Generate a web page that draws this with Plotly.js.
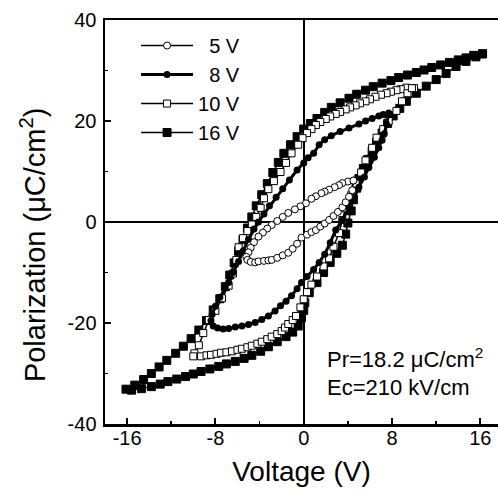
<!DOCTYPE html>
<html>
<head>
<meta charset="utf-8">
<script src="https://cdn.plot.ly/plotly-3.0.1.min.js"></script>
<style>html,body{margin:0;padding:0;background:#fff;}#chart{width:498px;height:501px;}</style>
</head>
<body>
<div id="chart"></div>
<script>
// Legend names
const seriesNames = ["\u20075 V", "\u20078 V", "10 V", "16 V"];

// 5 V loop (open circles): upper branch then lower branch
const v5 = [4.5, 4.0, 3.5, 3.2, 2.8, 2.3, 1.9, 1.6, 1.1, 0.7, 0.2, -0.3, -0.8, -1.4, -1.9, -2.4, -2.9, -3.3, -3.7, -4.1, -4.5, -4.8, -5.0, -5.2, -5.1, -4.8,
            -4.4, -4.1, -3.6, -3.2, -2.9, -2.4, -1.9, -1.4, -1.0, -0.6, -0.2, 0.3, 0.7, 1.1, 1.5, 1.9, 2.3, 2.7, 3.1, 3.5, 3.8, 4.1, 4.4, 4.5];
const p5 = [8.2, 8.0, 7.7, 7.3, 6.9, 6.4, 6.0, 5.7, 5.1, 4.6, 3.7, 3.1, 2.5, 1.8, 1.0, 0.2, -0.6, -1.3, -2.1, -2.9, -4.0, -5.1, -6.0, -6.9, -7.5, -7.9,
            -8.0, -7.8, -7.7, -7.6, -7.5, -7.1, -6.6, -6.1, -5.3, -4.3, -3.1, -2.5, -2.0, -1.6, -0.9, -0.3, 0.4, 1.2, 2.0, 2.9, 3.9, 5.0, 6.3, 8.2];

// 8 V loop (filled circles)
const v8 = [7.7, 7.2, 6.8, 6.2, 5.6, 5.0, 4.1, 3.3, 2.5, 1.9, 1.4, 0.9, 0.4, 0.0, -0.6, -1.3, -1.9, -2.5, -3.1, -3.6, -4.1, -4.5, -5.0, -5.5, -5.9, -6.4, -6.8, -7.1, -7.6, -8.0, -8.3, -8.4, -8.2,
            -7.8, -7.3, -6.8, -6.2, -5.6, -5.0, -4.4, -3.8, -3.2, -2.6, -2.1, -1.6, -1.1, -0.6, -0.2, 0.3, 0.9, 1.4, 1.9, 2.4, 2.9, 3.5, 4.1, 4.6, 5.0, 5.5, 5.9, 6.4, 6.8, 7.1, 7.3, 7.5, 7.7];
const p8 = [21.6, 21.3, 21.0, 20.5, 20.0, 19.4, 18.6, 17.9, 17.1, 16.3, 15.3, 13.6, 12.7, 11.7, 10.3, 8.3, 6.6, 4.9, 3.2, 1.6, 0.0, -1.4, -3.4, -5.8, -7.8, -10.0, -12.0, -13.0, -14.9, -16.7, -18.3, -19.5, -20.6,
            -21.0, -21.2, -21.1, -20.8, -20.6, -20.3, -19.9, -19.3, -18.6, -17.6, -16.6, -15.7, -14.6, -13.2, -12.0, -10.8, -9.4, -8.0, -6.4, -4.1, -1.6, 0.4, 2.9, 4.9, 6.9, 8.9, 10.8, 12.8, 14.7, 16.2, 17.5, 19.4, 21.3];

// 10 V loop (open squares)
const v10 = [10.0, 9.3, 8.8, 8.4, 7.9, 7.5, 7.0, 6.5, 6.0, 5.6, 5.1, 4.7, 4.2, 3.8, 3.3, 2.9, 2.4, 2.0, 1.5, 1.1, 0.7, 0.3, -0.1, -0.5, -1.1, -1.6, -2.1, -2.7, -3.2, -3.6, -3.9, -4.3, -4.7, -5.1, -5.5, -5.9, -6.1, -6.4, -6.8, -7.4, -8.0, -8.6, -9.1, -9.5, -9.9, -10.0,
             -9.3, -8.8, -8.4, -7.9, -7.5, -7.0, -6.5, -6.0, -5.6, -5.1, -4.7, -4.2, -3.8, -3.3, -2.9, -2.4, -2.0, -1.7, -1.4, -1.0, -0.7, -0.3, 0.0, 0.3, 0.7, 1.2, 1.8, 2.3, 2.7, 3.2, 3.5, 3.8, 4.3, 4.7, 5.2, 5.6, 6.2, 6.6, 7.2, 7.7, 8.4, 8.9, 9.4, 9.8];
const p10 = [26.5, 26.6, 26.3, 26.1, 25.8, 25.5, 25.2, 24.8, 24.3, 23.9, 23.5, 23.1, 22.7, 22.3, 21.8, 21.4, 20.9, 20.4, 19.8, 19.2, 18.4, 17.6, 16.6, 15.3, 13.6, 11.7, 9.9, 8.1, 6.5, 4.7, 2.8, 1.0, -0.5, -1.8, -3.2, -5.0, -7.5, -10.2, -12.6, -15.1, -17.6, -19.4, -22.0, -24.4, -26.0, -26.6,
             -26.6, -26.4, -26.3, -26.1, -25.9, -25.8, -25.6, -25.3, -25.1, -24.8, -24.5, -24.1, -23.7, -23.2, -22.7, -22.2, -21.6, -20.9, -20.2, -19.4, -18.6, -16.9, -15.3, -13.9, -12.4, -10.8, -8.8, -7.2, -4.9, -2.2, 0.4, 2.7, 5.3, 7.6, 9.8, 12.2, 14.7, 16.7, 18.4, 20.0, 22.0, 23.9, 25.5, 26.5];

// 16 V loop (filled squares)
const v16 = [16.2, 15.4, 14.7, 14.0, 13.2, 12.4, 11.6, 10.9, 10.2, 9.4, 8.6, 7.9, 7.1, 6.3, 5.6, 4.8, 4.1, 3.3, 2.5, 1.9, 1.2, 0.6, 0.0, -0.6, -1.2, -1.8, -2.3, -2.8, -3.3, -3.8, -4.3, -4.7, -5.1, -5.5, -5.9, -6.3, -6.7, -7.1, -7.6, -8.2, -8.8, -9.5, -10.2, -10.9, -11.6, -12.4, -13.1, -13.8, -14.5, -15.3, -16.1,
             -15.6, -14.7, -13.8, -13.0, -12.3, -11.5, -10.7, -10.0, -9.3, -8.5, -7.7, -7.0, -6.2, -5.4, -4.7, -3.9, -3.2, -2.4, -1.6, -1.0, -0.5, -0.2, 0.0, 0.1, 0.5, 1.2, 1.8, 2.4, 3.0, 3.5, 3.8, 4.0, 4.3, 4.5, 4.8, 5.0, 5.4, 5.8, 6.2, 6.6, 7.1, 7.6, 8.1, 8.7, 9.3, 10.2, 11.1, 12.0, 12.9, 13.8, 14.7, 15.6, 16.2];
const p16 = [33.3, 33.0, 32.5, 32.1, 31.6, 31.1, 30.6, 30.1, 29.6, 29.1, 28.6, 28.0, 27.5, 26.8, 26.1, 25.3, 24.5, 23.6, 22.7, 21.7, 20.5, 19.5, 18.4, 16.9, 15.3, 13.6, 11.8, 9.8, 7.6, 5.4, 3.2, 1.0, -1.2, -3.5, -5.8, -8.1, -10.5, -12.8, -15.2, -17.4, -19.5, -21.4, -23.1, -24.6, -26.0, -27.4, -28.7, -30.0, -31.2, -32.3, -33.1,
             -33.3, -33.0, -32.6, -32.1, -31.6, -31.1, -30.6, -30.1, -29.6, -29.1, -28.6, -28.1, -27.6, -27.0, -26.4, -25.6, -24.7, -23.7, -22.7, -21.8, -20.6, -19.0, -17.5, -16.0, -14.0, -12.0, -10.0, -8.0, -6.2, -4.6, -2.4, -0.2, 2.2, 4.4, 6.7, 8.6, 10.6, 12.4, 14.0, 15.8, 17.6, 19.5, 21.0, 22.5, 23.9, 25.5, 26.9, 28.2, 29.4, 30.8, 31.8, 32.7, 33.3];

// Axis ticks
const xTicks = [-16, -8, 0, 8, 16];
const yTicks = [-40, -20, 0, 20, 40];

// Texts
const xTitle = "Voltage (V)";
const yTitle = "Polarization (\u03bcC/cm<sup>2</sup>)";
const noteLines = ["Pr=18.2 \u03bcC/cm<sup>2</sup>", "Ec=210 kV/cm"];

const FONT = "Arial, 'Liberation Sans', Helvetica, sans-serif";
const lineStyle = {color: "#000", width: 1.5};

const traces = [
  {x: v16, y: p16, name: seriesNames[3], legendrank: 4, type: "scatter", mode: "lines+markers", line: lineStyle,
   marker: {symbol: "square", size: 8, color: "#000", line: {color: "#000", width: 1}}},
  {x: v10, y: p10, name: seriesNames[2], legendrank: 3, type: "scatter", mode: "lines+markers", line: lineStyle,
   marker: {symbol: "square", size: 7, color: "#fff", line: {color: "#000", width: 1}}},
  {x: v8, y: p8, name: seriesNames[1], legendrank: 2, type: "scatter", mode: "lines+markers", line: {color: "#000", width: 3},
   marker: {symbol: "circle", size: 7, color: "#000", line: {color: "#000", width: 0}}},
  {x: v5, y: p5, name: seriesNames[0], legendrank: 1, type: "scatter", mode: "lines+markers", line: lineStyle,
   marker: {symbol: "circle", size: 7, color: "#fff", line: {color: "#000", width: 1}}}
];

const layout = {
  width: 498, height: 501,
  margin: {l: 105, r: 0, t: 20, b: 77},
  paper_bgcolor: "#fff", plot_bgcolor: "#fff",
  font: {family: FONT, color: "#000", size: 16},
  showlegend: true,
  legend: {x: 0.079, y: 0.985, xanchor: "left", yanchor: "top", bgcolor: "rgba(0,0,0,0)",
           font: {family: FONT, size: 20, color: "#000"}, tracegroupgap: 0, itemwidth: 52},
  xaxis: {
    range: [-18, 17.6], tickvals: xTicks, ticktext: xTicks.map(String),
    ticks: "inside", ticklen: 6, tickwidth: 2, tickcolor: "#000",
    minor: {ticks: "inside", ticklen: 3, tickwidth: 1.5, dtick: 4, tick0: 0, tickcolor: "#000"},
    showline: true, linecolor: "#000", linewidth: 2.5, mirror: true,
    showgrid: false, zeroline: true, zerolinecolor: "#000", zerolinewidth: 2,
    tickfont: {family: FONT, size: 20}, ticklabelstandoff: -6,
    title: {text: xTitle, font: {family: FONT, size: 28}, standoff: 14}
  },
  yaxis: {
    range: [-40, 40], tickvals: yTicks, ticktext: yTicks.map(String),
    ticks: "inside", ticklen: 6, tickwidth: 2, tickcolor: "#000",
    minor: {ticks: "inside", ticklen: 3, tickwidth: 1.5, dtick: 10, tick0: 0, tickcolor: "#000"},
    showline: true, linecolor: "#000", linewidth: 2.5, mirror: false,
    showgrid: false, zeroline: true, zerolinecolor: "#000", zerolinewidth: 2,
    tickfont: {family: FONT, size: 20}, ticklabelstandoff: 2
  },
  annotations: [
    {text: yTitle, textangle: -90, x: -0.183, y: 0.443, xref: "paper", yref: "paper", xanchor: "center", yanchor: "middle",
     showarrow: false, font: {family: FONT, size: 29, color: "#000"}},
    {text: noteLines[0], x: 1.9, y: -26.9, xref: "x", yref: "y", xanchor: "left", yanchor: "middle",
     showarrow: false, font: {family: FONT, size: 22, color: "#000"}},
    {text: noteLines[1], x: 1.9, y: -32.7, xref: "x", yref: "y", xanchor: "left", yanchor: "middle",
     showarrow: false, font: {family: FONT, size: 22, color: "#000"}}
  ]
};

Plotly.newPlot("chart", traces, layout, {displayModeBar: false, staticPlot: true});
</script>
</body>
</html>
